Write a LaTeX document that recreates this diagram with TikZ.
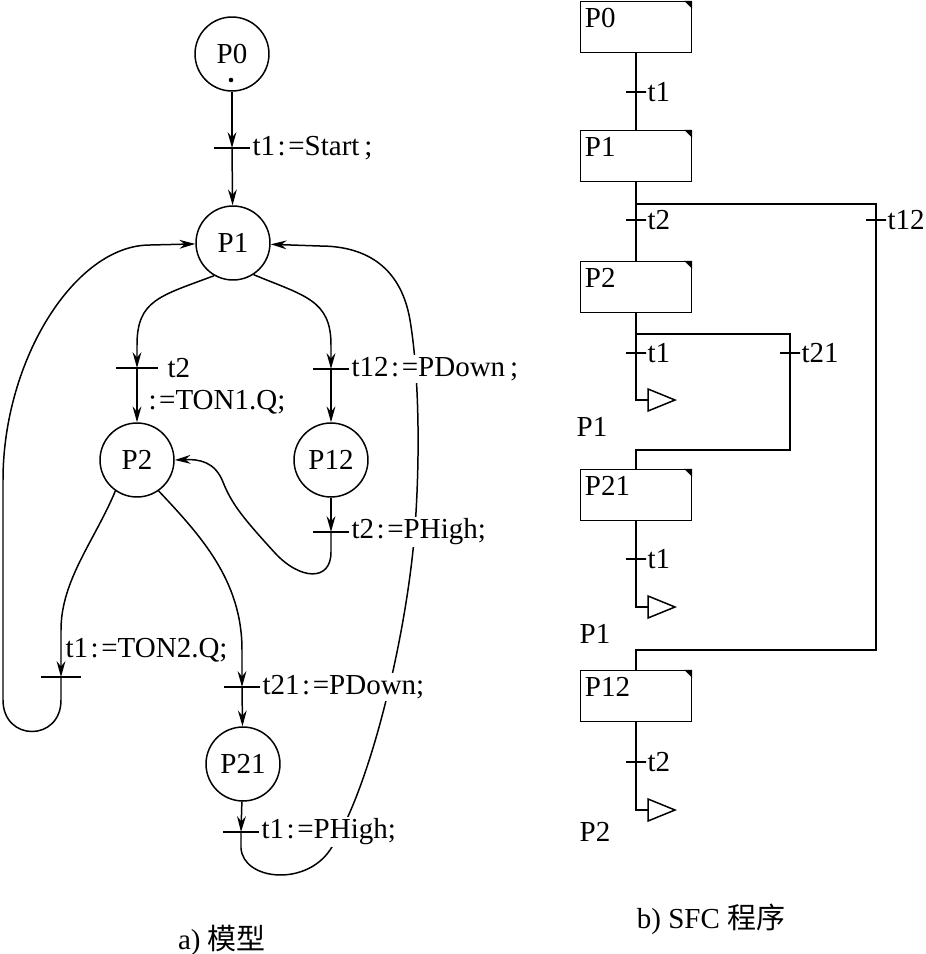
\documentclass[tikz,border=0pt]{standalone}
\usepackage{fontspec}
\setmainfont{Liberation Serif}
\newfontfamily\cjk{Noto Sans CJK SC}
\usetikzlibrary{arrows.meta}
\newcommand{\tcol}{\kern1.5pt:\kern1.5pt}
\begin{document}
\begin{tikzpicture}[x=0.02cm, y=-0.02cm, line width=0.85pt,
  font=\fontsize{16.5}{19}\selectfont,
  place/.style={shape=circle, draw=black, minimum size=1.48cm, inner sep=0pt},
  tbar/.style={draw=black, minimum width=0.72cm, minimum height=0pt, inner sep=0pt, outer sep=0pt},
  tick/.style={draw=black, minimum width=0.4cm, minimum height=0pt, inner sep=0pt, outer sep=0pt},
  sfcstep/.style={draw=black, minimum width=2.22cm, minimum height=1.02cm, inner sep=0pt},
  steptext/.style={anchor=north west, inner xsep=2.5pt, inner ysep=4pt},
  tlabel/.style={anchor=west, inner sep=1pt},
  mask/.style={fill=white},
  sfclabel/.style={anchor=west, inner sep=0.5pt},
  arc/.style={-{Stealth[length=9pt, width=5pt, inset=3pt]}}]
\useasboundingbox (0,0) rectangle (926,954);

% a) model
\node[place] (P0) at (232,54) {P0};
\fill (231,80) circle (1.3pt);
\node[place] (P1) at (233,243) {P1};
\node[place] (P2) at (137,460) {P2};
\node[place] (P12) at (331,460) {P12};
\node[place] (P21) at (243,764) {P21};
\node[tbar] (tA) at (232,148) {};
\node[tbar, minimum width=0.84cm] (tB) at (137,368) {};
\node[tbar] (tC) at (331,369) {};
\node[tbar, minimum width=0.8cm] (tD) at (61,677) {};
\node[tbar] (tE) at (242,687) {};
\node[tbar] (tF) at (331,532) {};
\node[tbar] (tG) at (241,832) {};

\draw[arc] (P0) -- (tA);
\draw[arc] (tA) -- (P1);
\draw[arc] (P1.240) .. controls (160,296) and (137,300) .. (137,345) -- (tB);
\draw[arc] (tB) -- (P2);
\draw[arc] (P1.-57) .. controls (305,296) and (331,300) .. (331,345) -- (tC);
\draw[arc] (tC) -- (P12);
\draw[arc] (P2.235) .. controls (95,540) and (61,580) .. (61,630) -- (tD);
\draw[arc] (tD) -- (61,700) .. controls (61,742) and (3,742) .. (3,700) -- (3,480)
  .. controls (3,360) and (75,245) .. (150,245) -- (P1);
\draw[arc] (P2.-55) .. controls (200,535) and (242,580) .. (242,650) -- (tE);
\draw[arc] (tE) -- (P21);
\draw[arc] (P12) -- (tF);
\draw[arc] (tF) -- (331,552) .. controls (331,582) and (300,580) .. (275,553)
  .. controls (245,520) and (232,505) .. (223,482) .. controls (215,462) and (200,459) .. (P2.east);
\draw[arc] (P21) -- (tG);
\draw[arc] (tG) -- (241,848) .. controls (243,880) and (305,887) .. (330,850)
  .. controls (370,790) and (405,640) .. (414,540) .. controls (420,470) and (420,380) .. (410,320)
  .. controls (400,262) and (360,246) .. (320,246) -- (P1);

\node[tlabel] (lA) at (tA.east) {t1\tcol=Start\,;};
\node[tlabel] (lB) at (165,368) {t2};
\node[tlabel] (lB2) at (146,402) {:\kern1.5pt=TON1.Q;};
\node[tlabel, mask] (lC) at (tC.east) {t12\tcol=PDown\,;};
\node[tlabel] (lD) at (63,650) {t1\tcol=TON2.Q;};
\node[tlabel, mask] (lE) at (tE.east) {t21\tcol=PDown;};
\node[tlabel, mask] (lF) at (tF.east) {t2\tcol=PHigh;};
\node[tlabel, mask] (lG) at (tG.east) {t1\tcol=PHigh;};
\node (capA) at (222,940) {a)\ {\cjk 模型}};

% b) SFC program
\node[sfcstep] (s0) at (636,27) {};
\node[sfcstep] (s1) at (636,156) {};
\node[sfcstep] (s2) at (636,287) {};
\node[sfcstep] (s21) at (636,495) {};
\node[sfcstep] (s12) at (636,696) {};
\foreach \s/\t in {s0/P0, s1/P1, s2/P2, s21/P21, s12/P12} {
  \node[steptext] (\s-txt) at (\s.north west) {\t};
  \fill (\s.north east) -- ++(-8,0) -- ++(8,8) -- cycle;
}
\foreach \n/\x/\y/\t in {u1/636/92/t1, u2/636/220/t2, u3/876/220/t12, u4/636/353/t1,
  u5/790/353/t21, u6/636/559/t1, u7/636/762/t2} {
  \node[tick] (\n) at (\x,\y) {};
  \node[sfclabel] (\n-l) at (\n.east) {\t};
}
\coordinate (j1) at (636,204);
\coordinate (j2) at (636,650);
\coordinate (j3) at (636,334);
\coordinate (j4) at (636,450);
\coordinate (g1) at (648,400);
\coordinate (g2) at (648,607);
\coordinate (g3) at (648,810);

\draw (s0) -- (u1) -- (s1);
\draw (s1) -- (u2) -- (s2);
\draw (j1) -| (u3) |- (j2) -- (s12);
\draw (s2) -- (u4) |- (g1);
\draw (j3) -| (u5) |- (j4) -- (s21);
\draw (s21) -- (u6) |- (g2);
\draw (s12) -- (u7) |- (g3);
\foreach \g in {g1,g2,g3}
  \draw (\g) ++(0,-11) -- ++(27,11) -- ++(-27,11) -- cycle;
\node (g1-l) at (592,427) {P1};
\node (g2-l) at (595,634) {P1};
\node (g3-l) at (595,832) {P2};
\node (capB) at (711,919) {b) SFC {\cjk 程序}};
\end{tikzpicture}
\end{document}
